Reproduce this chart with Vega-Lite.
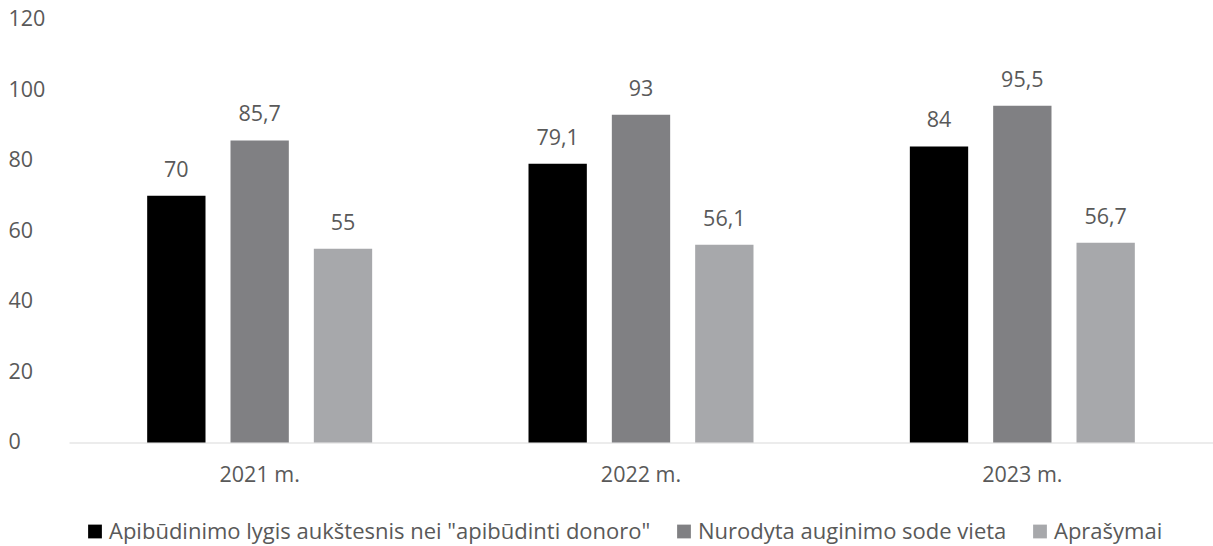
{
  "$schema": "https://vega.github.io/schema/vega-lite/v6.json",
  "autosize": {"type": "none"},
  "width": 1144,
  "height": 423,
  "padding": {"left": 69, "top": 19.5, "right": 0, "bottom": 103.5},
  "background": "white",
  "config": {
    "font": "Open Sans",
    "view": {"stroke": null},
    "axis": {"labelColor": "#595959", "labelFontSize": 21.5, "labelFont": "Open Sans", "grid": false}
  },
  "data": {
    "values": [
      {"year": "2021 m.", "series": "Apibūdinimo lygis aukštesnis nei \"apibūdinti donoro\"", "value": 70, "label": "70"},
      {"year": "2021 m.", "series": "Nurodyta auginimo sode vieta", "value": 85.7, "label": "85,7"},
      {"year": "2021 m.", "series": "Aprašymai", "value": 55, "label": "55"},
      {"year": "2022 m.", "series": "Apibūdinimo lygis aukštesnis nei \"apibūdinti donoro\"", "value": 79.1, "label": "79,1"},
      {"year": "2022 m.", "series": "Nurodyta auginimo sode vieta", "value": 93, "label": "93"},
      {"year": "2022 m.", "series": "Aprašymai", "value": 56.1, "label": "56,1"},
      {"year": "2023 m.", "series": "Apibūdinimo lygis aukštesnis nei \"apibūdinti donoro\"", "value": 84, "label": "84"},
      {"year": "2023 m.", "series": "Nurodyta auginimo sode vieta", "value": 95.5, "label": "95,5"},
      {"year": "2023 m.", "series": "Aprašymai", "value": 56.7, "label": "56,7"}
    ]
  },
  "encoding": {
    "x": {
      "field": "year", "type": "nominal", "title": null,
      "scale": {"paddingInner": 0.41, "paddingOuter": 0.205},
      "axis": {"labelAngle": 0, "ticks": false, "domainColor": "#d9d9d9", "domainWidth": 1, "labelPadding": 22}
    },
    "xOffset": {
      "field": "series", "type": "nominal",
      "sort": ["Apibūdinimo lygis aukštesnis nei \"apibūdinti donoro\"", "Nurodyta auginimo sode vieta", "Aprašymai"],
      "scale": {"paddingInner": 0.3, "paddingOuter": 0}
    },
    "y": {
      "field": "value", "type": "quantitative", "title": null,
      "scale": {"domain": [0, 120], "nice": false},
      "axis": {"values": [0, 20, 40, 60, 80, 100, 120], "domain": false, "ticks": false, "tickSize": 0, "labelAlign": "left", "labelPadding": 61}
    }
  },
  "layer": [
    {
      "mark": {"type": "bar"},
      "encoding": {
        "color": {
          "field": "series", "type": "nominal",
          "sort": ["Apibūdinimo lygis aukštesnis nei \"apibūdinti donoro\"", "Nurodyta auginimo sode vieta", "Aprašymai"],
          "scale": {"range": ["#000000", "#808083", "#a7a8ab"]},
          "legend": {
            "title": null, "orient": "none", "legendX": 15, "legendY": 501, "direction": "horizontal",
            "symbolType": "square", "symbolSize": 190, "symbolStrokeWidth": 0,
            "labelFontSize": 22, "labelColor": "#595959", "labelFont": "Open Sans",
            "columnPadding": 22, "labelOffset": 3, "labelLimit": 1000
          }
        }
      }
    },
    {
      "mark": {"type": "text", "baseline": "alphabetic", "dy": -19, "fontSize": 21.5, "color": "#595959"},
      "encoding": {"text": {"field": "label"}}
    }
  ]
}
